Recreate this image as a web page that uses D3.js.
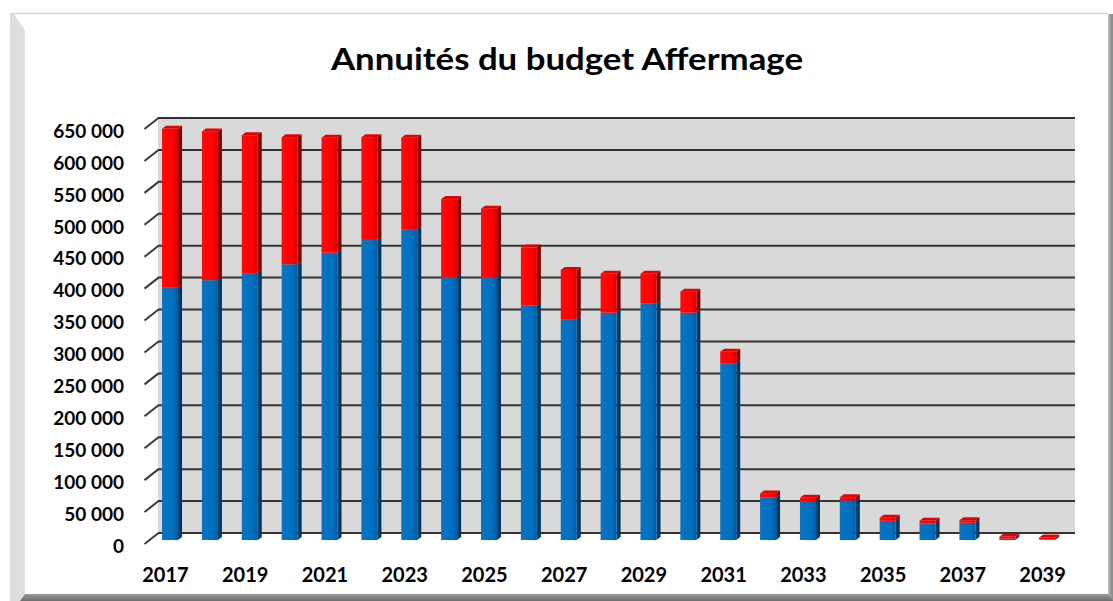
<!DOCTYPE html>
<html>
<head>
<meta charset="utf-8">
<script src="https://cdn.jsdelivr.net/npm/d3@7"></script>
<style>
  html, body { margin: 0; padding: 0; background: #ffffff; }
  svg { display: block; }
</style>
</head>
<body>
<svg id="chart" width="1113" height="601"></svg>
<script>
// ---- data ----
const title = "Annuités du budget Affermage";
const years = [2017,2018,2019,2020,2021,2022,2023,2024,2025,2026,2027,2028,2029,2030,2031,2032,2033,2034,2035,2036,2037,2038,2039];
const capital  = [395000,407000,418000,432000,450000,470000,487000,412000,412000,367000,346000,356000,370000,356000,277000,67000,61000,62000,30000,26000,27000,2000,1000];
const interets = [249000,233000,216000,199000,180000,161000,143000,122000,107000,91000,77000,61000,47000,33000,18000,6000,5000,5000,5000,4000,4000,3000,3000];
const yTicks = [0,50000,100000,150000,200000,250000,300000,350000,400000,450000,500000,550000,600000,650000];
const xTickYears = [2017,2019,2021,2023,2025,2027,2029,2031,2033,2035,2037,2039];

// ---- layout ----
const svg = d3.select("#chart");
const W = 1113, H = 601;
const depthX = 14, depthY = 11;       // wall depth offset
const frontLeft = 144.5, frontRight = 1061.5;
const barW = 16, sideDx = 4, sideDy = 3;

const x = d3.scaleBand().domain(years).range([frontLeft, frontRight]).padding(0);
const yFront = d3.scaleLinear().domain([0, 650000]).range([544, 129]);
const yBack  = d3.scaleLinear().domain([0, 650000]).range([533, 118]);
const yBar   = d3.scaleLinear().domain([0, 650000]).range([540, 125]);

const fr = d3.formatLocale({decimal: ",", thousands: " ", grouping: [3], currency: ["", " €"]});
const fmt = fr.format(",");

// ---- defs ----
const defs = svg.append("defs");
function grad(id, stops, x2 = "100%", y2 = "0%") {
  const g = defs.append("linearGradient").attr("id", id)
    .attr("x1", "0%").attr("y1", "0%").attr("x2", x2).attr("y2", y2);
  stops.forEach(s => g.append("stop").attr("offset", s[0]).attr("stop-color", s[1]));
}
grad("blueFront", [["0%", "#0a73c2"], ["70%", "#0070c0"], ["100%", "#005a9c"]]);
grad("blueSide",  [["0%", "#004a80"], ["100%", "#002d50"]]);
grad("redFront",  [["0%", "#ff0a0a"], ["70%", "#ff0000"], ["100%", "#d90000"]]);
grad("redSide",   [["0%", "#a00000"], ["100%", "#700000"]]);
grad("rightEdge", [["0%", "#c8c8c8"], ["50%", "#9a9a9a"], ["100%", "#8a8a8a"]]);
grad("bottomEdge",[["0%", "#9a9a9a"], ["100%", "#6e6e6e"]], "0%", "100%");
const blur = defs.append("filter").attr("id", "soft").attr("x", "-5%").attr("y", "-50%").attr("width", "110%").attr("height", "200%");
blur.append("feGaussianBlur").attr("stdDeviation", 0.9);

// ---- frame ----
svg.append("rect").attr("x", 0).attr("y", 0).attr("width", W).attr("height", H).attr("fill", "#ffffff");
svg.append("line").attr("x1", 10).attr("x2", 1108).attr("y1", 13.5).attr("y2", 13.5)
  .attr("stroke", "#d6d6d6").attr("stroke-width", 1.5);
svg.append("polygon").attr("points", "10,13 13,13 25,30 25,594 20,601 10,601").attr("fill", "#dedede");
svg.append("polygon").attr("points", "1108,14 1113,14 1113,601 1108,601").attr("fill", "url(#rightEdge)");
svg.append("polygon").attr("points", "25,594 1108,594 1113,601 20,601").attr("fill", "url(#bottomEdge)");

// ---- title ----
svg.append("text").attr("x", 567).attr("y", 70).attr("text-anchor", "middle")
  .attr("font-family", "Lato, 'Open Sans', sans-serif").attr("font-weight", "bold")
  .attr("font-size", 30).attr("fill", "#000")
  .attr("textLength", 472).attr("lengthAdjust", "spacingAndGlyphs")
  .text(title);

// ---- back wall ----
const wallL = frontLeft + depthX - 0.5, wallR = frontRight + depthX - 0.5;
svg.append("rect").attr("x", wallL).attr("y", yBack(650000)).attr("width", wallR - wallL)
  .attr("height", yBack(0) - yBack(650000)).attr("fill", "#d9d9d9");

// gridlines
const grid = svg.append("g");
grid.selectAll("line.glow").data(yTicks).join("line").attr("class", "glow")
  .attr("x1", wallL).attr("x2", wallR).attr("y1", d => yBack(d)).attr("y2", d => yBack(d))
  .attr("stroke", "#6f6f6f").attr("stroke-width", 4).attr("opacity", 0.6).attr("filter", "url(#soft)");
grid.selectAll("line.main").data(yTicks).join("line").attr("class", "main")
  .attr("x1", wallL).attr("x2", wallR).attr("y1", d => yBack(d)).attr("y2", d => yBack(d))
  .attr("stroke", "#333333").attr("stroke-width", 2);

// diagonal side ticks
svg.append("g").selectAll("line").data(yTicks).join("line")
  .attr("x1", frontLeft).attr("y1", d => yFront(d))
  .attr("x2", frontLeft + depthX).attr("y2", d => yBack(d))
  .attr("stroke", "#3a3a3a").attr("stroke-width", 2);

// ---- bars ----
const bars = svg.append("g");
years.forEach((yr, i) => {
  const bx = x(yr) + x.bandwidth() / 2 - 2.4;
  const y0 = yBar(0), y1 = yBar(capital[i]), y2 = yBar(capital[i] + interets[i]);
  const g = bars.append("g");
  // blue segment
  g.append("polygon").attr("points", [[bx+barW, y1], [bx+barW+sideDx, y1-sideDy], [bx+barW+sideDx, y0-sideDy], [bx+barW, y0]].join(" "))
    .attr("fill", "url(#blueSide)");
  g.append("rect").attr("x", bx).attr("y", y1).attr("width", barW).attr("height", y0 - y1).attr("fill", "url(#blueFront)");
  // red segment
  g.append("polygon").attr("points", [[bx+barW, y2], [bx+barW+sideDx, y2-sideDy], [bx+barW+sideDx, y1-sideDy], [bx+barW, y1]].join(" "))
    .attr("fill", "url(#redSide)");
  g.append("rect").attr("x", bx).attr("y", y2).attr("width", barW).attr("height", y1 - y2).attr("fill", "url(#redFront)");
  // top face
  g.append("polygon").attr("points", [[bx, y2], [bx+sideDx, y2-sideDy], [bx+barW+sideDx, y2-sideDy], [bx+barW, y2]].join(" "))
    .attr("fill", "#e80000");
});

// ---- axes ----
const yAxis = svg.append("g").attr("transform", "translate(124,0)")
  .call(d3.axisLeft(yFront).tickValues(yTicks).tickFormat(d => fmt(d)).tickSize(0).tickPadding(0));
yAxis.select(".domain").remove();
yAxis.selectAll("text").attr("font-family", "Lato, 'Open Sans', sans-serif").attr("font-weight", "bold")
  .attr("font-size", 19).attr("fill", "#000").attr("dy", "0.38em").attr("y", 1);

const xAxis = svg.append("g").attr("transform", "translate(1,568)")
  .call(d3.axisBottom(x).tickValues(xTickYears).tickSize(0).tickPadding(0));
xAxis.select(".domain").remove();
xAxis.selectAll("text").attr("font-family", "Lato, 'Open Sans', sans-serif").attr("font-weight", "bold")
  .attr("font-size", 20).attr("fill", "#000").attr("dy", "0.71em").attr("y", 0);
</script>
</body>
</html>
